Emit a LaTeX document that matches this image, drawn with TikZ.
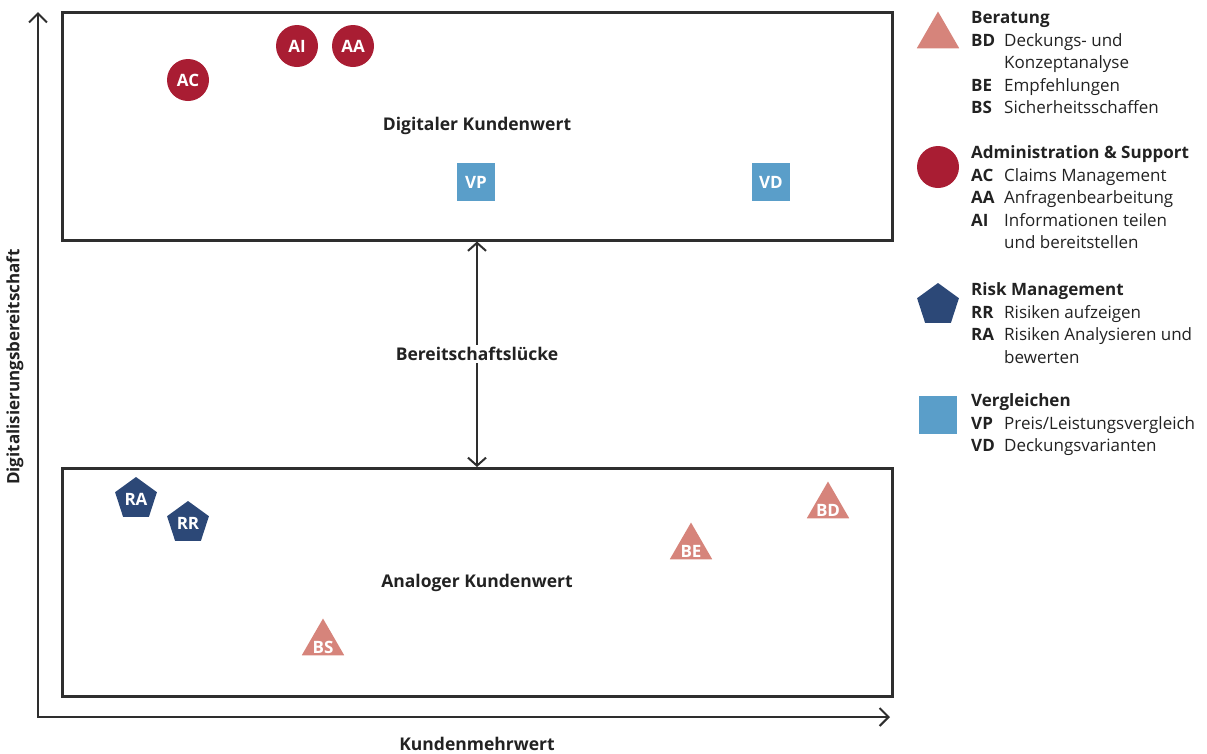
\documentclass[tikz,border=0pt]{standalone}
\usepackage{fontspec}
\setmainfont{Open Sans}
\usepackage{xcolor}
\definecolor{myred}{HTML}{A91D33}
\definecolor{mynavy}{HTML}{2C4877}
\definecolor{mysalm}{HTML}{D6847B}
\definecolor{myblue}{HTML}{5A9EC9}
\definecolor{mydark}{HTML}{2E2E2E}
\definecolor{mytext}{HTML}{222222}
\usepackage{tikz}
\usetikzlibrary{positioning}
\usetikzlibrary{shapes.geometric, arrows.meta}
\tikzstyle{panel} = [rectangle, minimum width=830pt, minimum height=228pt, draw=mydark, line width=3pt, text=mytext, font=\bfseries\fontsize{17.5}{21}\selectfont]
\tikzstyle{beratung} = [regular polygon, regular polygon sides=3, minimum size=49pt, inner sep=0pt, fill=mysalm]
\tikzstyle{support} = [circle, minimum size=42pt, inner sep=0pt, fill=myred, text=white, font=\bfseries\fontsize{17}{20}\selectfont]
\tikzstyle{risk} = [regular polygon, regular polygon sides=5, minimum size=44pt, inner sep=0pt, fill=mynavy, text=white, font=\bfseries\fontsize{17}{20}\selectfont]
\tikzstyle{vergleich} = [rectangle, minimum size=38pt, inner sep=0pt, fill=myblue, text=white, font=\bfseries\fontsize{17}{20}\selectfont]
\tikzstyle{tag} = [inner sep=0pt, text=white, font=\bfseries\fontsize{17}{20}\selectfont]
\tikzstyle{label} = [inner sep=2pt, text=mytext, font=\bfseries\fontsize{17.5}{21}\selectfont]
\tikzstyle{legend} = [anchor=north west, inner sep=0pt, text=mytext, font=\fontsize{17}{22.5}\selectfont]
\tikzstyle{axis} = [line width=2pt, mydark, {Straight Barb[length=9pt,width=18pt]}-{Straight Barb[length=9pt,width=18pt]}]
\tikzstyle{gap} = [line width=2pt, mydark, {Straight Barb[length=8pt,width=18pt]}-{Straight Barb[length=8pt,width=18pt]}]

\begin{document}
\begin{tikzpicture}[x=1pt,y=-1pt]
	\useasboundingbox (0,0) rectangle (1207,753);
	% axes
	\coordinate (origin) at (38,717);
	\coordinate (xend) at (890,717);
	\coordinate (yend) at (38,12);
	\draw [axis] (xend) -- (origin) -- (yend);
	\node (ylabel)[label, rotate=90, font=\bfseries\fontsize{17}{20}\selectfont] at (15,367) {Digitalisierungsbereitschaft};
	\node (xlabel)[label] at (477,744) {Kundenmehrwert};
	% panels
	\node (digital)[panel] at (477,126) {Digitaler Kundenwert};
	\node (analog)[panel] at (477,582.5) {Analoger Kundenwert};
	\draw [gap] (digital.south) -- node [label, fill=white] {Bereitschaftslücke} (analog.north);
	% digital
	\node (ac)[support] at (188,80) {AC};
	\node (ai)[support] at (297,46) {AI};
	\node (aa)[support] at (353,46) {AA};
	\node (vp)[vergleich] at (476,182) {VP};
	\node (vd)[vergleich] at (771,182) {VD};
	% analog
	\node (ra)[risk] at (136,499) {RA};
	\node (rr)[risk] at (188,523) {RR};
	\node (bd)[beratung] at (828,506) {};
	\node (be)[beratung] at (691,547) {};
	\node (bs)[beratung] at (323,643) {};
	\node (bdtag)[tag] at ([yshift=-4pt]bd.center) {BD};
	\node (betag)[tag] at ([yshift=-4pt]be.center) {BE};
	\node (bstag)[tag] at ([yshift=-4pt]bs.center) {BS};
	% legend
	\node (kberatung)[beratung] at (938,36) {};
	\node (ksupport)[support] at (938,167) {};
	\node (krisk)[risk] at (938,305) {};
	\node (kvergleich)[vergleich] at (938,415) {};
	\node (lberatung)[legend] at (971,8) {\begin{tabular}{@{}p{33pt}@{}l@{}}
		\multicolumn{2}{@{}l@{}}{\textbf{Beratung}}\\
		\textbf{BD} & Deckungs- und\\
		 & Konzeptanalyse\\
		\textbf{BE} & Empfehlungen\\
		\textbf{BS} & Sicherheitsschaffen
	\end{tabular}};
	\node (lsupport)[legend] at (971,143) {\begin{tabular}{@{}p{33pt}@{}l@{}}
		\multicolumn{2}{@{}l@{}}{\textbf{Administration \& Support}}\\
		\textbf{AC} & Claims Management\\
		\textbf{AA} & Anfragenbearbeitung\\
		\textbf{AI} & Informationen teilen\\
		 & und bereitstellen
	\end{tabular}};
	\node (lrisk)[legend] at (971,280) {\begin{tabular}{@{}p{33pt}@{}l@{}}
		\multicolumn{2}{@{}l@{}}{\textbf{Risk Management}}\\
		\textbf{RR} & Risiken aufzeigen\\
		\textbf{RA} & Risiken Analysieren und\\
		 & bewerten
	\end{tabular}};
	\node (lvergleich)[legend] at (971,391) {\begin{tabular}{@{}p{33pt}@{}l@{}}
		\multicolumn{2}{@{}l@{}}{\textbf{Vergleichen}}\\
		\textbf{VP} & Preis/Leistungsvergleich\\
		\textbf{VD} & Deckungsvarianten
	\end{tabular}};
\end{tikzpicture}
\end{document}
